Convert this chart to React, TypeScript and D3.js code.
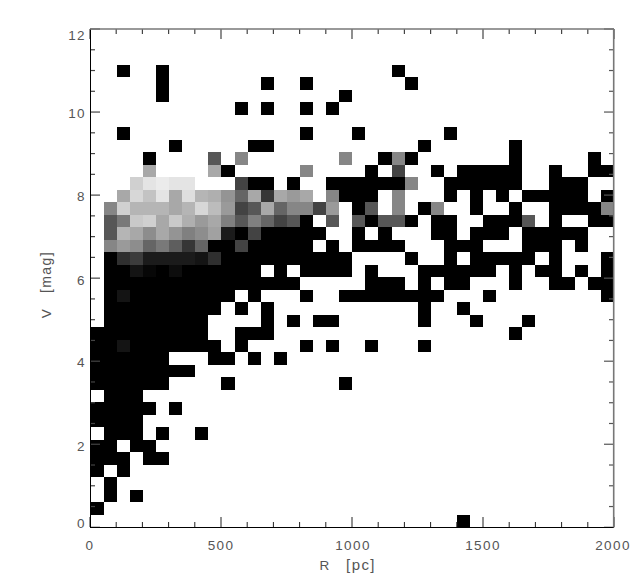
import React from 'react';
import * as d3 from 'd3';

const WIDTH = 641;
const HEIGHT = 588;

// brightness code per cell, one row per 0.3 mag, 50 pc per column, top row first
// '.' is an empty cell, 0-9a-z go from black to near white
const v8to12 = [
  '.......... .......... .......... ..........',
  '.......... .......... .......... ..........',
  '.......... .......... .......... ..........',
  '..0..0.... .......... ...0...... ..........',
  '.....0.... ...0..0... ....0..... ..........',
  '.....0.... .........0 .......... ..........',
  '.......... .0.0..0.0. .......... ..........',
  '.......... .......... .......... ..........',
  '..0....... ......0... 0......0.. ..........',
  '......0... ..00...... .....0.... ..0.......',
  '....0....d .k.......k ..0k0..... ..0.....0.',
  '....p....p 0.....k... .0.a..0.00 000..0..00',
  '...vyzyy.. .a00.0..00 0000k..000 000..000..',
];
const v4to8 = [
  '..pwtypxrq mfp8pnp.k0 00.k...0.0 .0.00000.0',
  '.kvrrrprws nadpfkkan. 0d.k.0k..0 ..0..0000k',
  '.diuvpuqnp jdjfad0.d. d0dd0.00.. 000d.0..00',
  '.drplpmjlo 40a00000.. 0.0...00.0 00.00000..',
  '.knlfie8f0 0a00000.0. 0000...000 ...000.0..',
  '.079444437 0000000000 ....0..0.0 0000.0...0',
  '.003102000 000.0.0000 .0...00000 0.0.00.0.0',
  '.000000000 000000.... .000.0.00. ..0..00.00',
  '.030000000 0.0...0..0 0000000... 0........0',
  '.000000000 .0.0...... .....0..0. ..........',
  '.00000000. ...0.0.00. .....0...0 ...0......',
  '000000000. .000...... .......... ..0.......',
  '0030000000 .0....0.0. .0...0.... ..........',
  '000000...0 0.0.0..... .......... ..........',
];
const v0to4 = [
  '00000000.. .......... .......... ..........',
  '000000.... 0........0 .......... ..........',
  '.000...... .......... .......... ..........',
  '00000.0... .......... .......... ..........',
  '0000...... .......... .......... ..........',
  '.000.0..0. .......... .......... ..........',
  '00.00..... .......... .......... ..........',
  '000.00.... .......... .......... ..........',
  '0.0....... .......... .......... ..........',
  '.0........ .......... .......... ..........',
  '.0.0...... .......... .......... ..........',
  '0......... .......... .......... ..........',
  '.......... .......... ........0. ..........',
];

const xLabels = [0, 500, 1000, 1500, 2000];
const yLabels = [0, 2, 4, 6, 8, 10, 12];
// IDL nudges the end labels inward
const yLabelShift: Record<number, number> = { 0: -4, 2: 2, 4: 1, 6: 2, 8: 1, 10: 1, 12: 6 };
const xLabelShift: Record<number, number> = { 0: 0, 500: 0, 1000: 1, 1500: 0, 2000: -1 };
const xMinor = d3.range(0, 2001, 100);
const yMinor = d3.range(0, 12.01, 0.5);

const NCOLS = 40;
const NROWS = 40;

const x = d3.scaleLinear().domain([0, 2000]).range([90, 614]);
const y = d3.scaleLinear().domain([0, 12]).range([527.3, 29]);
const colX = d3.scaleLinear().domain([0, NCOLS]).range([90.6, 614]);
const rowY = d3.scaleLinear().domain([0, NROWS]).range([527.3, 27.3]);
const gray = d3.scaleLinear().domain([0, 35]).range([0, 235]);

const rows = [...v8to12, ...v4to8, ...v0to4];

const cellFill = (code: string) => {
  const g = Math.round(gray(parseInt(code, 36)));
  return `rgb(${g},${g},${g})`;
};

const labelFont = {
  fontFamily: '"Liberation Sans", sans-serif',
  fontSize: 13.5,
  fill: '#555',
  letterSpacing: 1.4,
};

export default function App() {
  const cells: React.ReactElement[] = [];
  rows.forEach((line, i) => {
    const r = NROWS - 1 - i;
    line.replace(/ /g, '').split('').forEach((code, c) => {
      if (code === '.') return;
      cells.push(
        <rect
          key={`${r}-${c}`}
          x={colX(c)}
          y={rowY(r + 1)}
          width={colX(c + 1) - colX(c)}
          height={rowY(r) - rowY(r + 1)}
          fill={cellFill(code)}
          shapeRendering="crispEdges"
        />
      );
    });
  });

  const tickLen = (major: boolean) => (major ? 10 : 5);

  return (
    <svg width={WIDTH} height={HEIGHT} style={{ position: 'absolute', left: 0, top: 0, background: '#fff' }}>
      <g>{cells}</g>

      {/* bottom and top ticks */}
      {xMinor.map(d => {
        const major = d % 500 === 0;
        return (
          <g key={d}>
            <line x1={x(d)} x2={x(d)} y1={527} y2={527 - tickLen(major)} stroke="#222" strokeWidth={1} />
            <line x1={x(d)} x2={x(d)} y1={29} y2={29 + tickLen(major)} stroke="#444" strokeWidth={1.2} />
          </g>
        );
      })}
      {/* left and right ticks */}
      {yMinor.map(d => {
        const major = d % 2 === 0;
        return (
          <g key={d}>
            <line x1={90} x2={90 + tickLen(major)} y1={y(d)} y2={y(d)} stroke="#444" strokeWidth={1.2} />
            <line x1={614} x2={614 - tickLen(major)} y1={y(d)} y2={y(d)} stroke="#555" strokeWidth={1.2} />
          </g>
        );
      })}

      {/* frame, IDL left/bottom come out darker than top/right */}
      <line x1={90.5} x2={90.5} y1={29} y2={527.5} stroke="#000" strokeWidth={1} />
      <line x1={90} x2={614} y1={527.5} y2={527.5} stroke="#000" strokeWidth={1} />
      <line x1={90} x2={614} y1={29} y2={29} stroke="#777" strokeWidth={1.6} />
      <line x1={613.7} x2={613.7} y1={29} y2={527.5} stroke="#777" strokeWidth={1.6} />

      {xLabels.map(d => (
        <text key={d} x={x(d) + xLabelShift[d]} y={550} textAnchor="middle" {...labelFont}>
          {d}
        </text>
      ))}
      {yLabels.map(d => (
        <text key={d} x={86} y={y(d) + yLabelShift[d] + 4.5} textAnchor="end" {...labelFont}>
          {d}
        </text>
      ))}

      <text x={325} y={570} textAnchor="middle" {...labelFont}>R</text>
      <text x={361} y={570} textAnchor="middle" {...labelFont} fontSize={15}>[pc]</text>
      <text transform="translate(51,313) rotate(-90)" textAnchor="middle" {...labelFont}>V</text>
      <text transform="translate(51,272) rotate(-90)" textAnchor="middle" {...labelFont} fontSize={14}>[mag]</text>
    </svg>
  );
}
